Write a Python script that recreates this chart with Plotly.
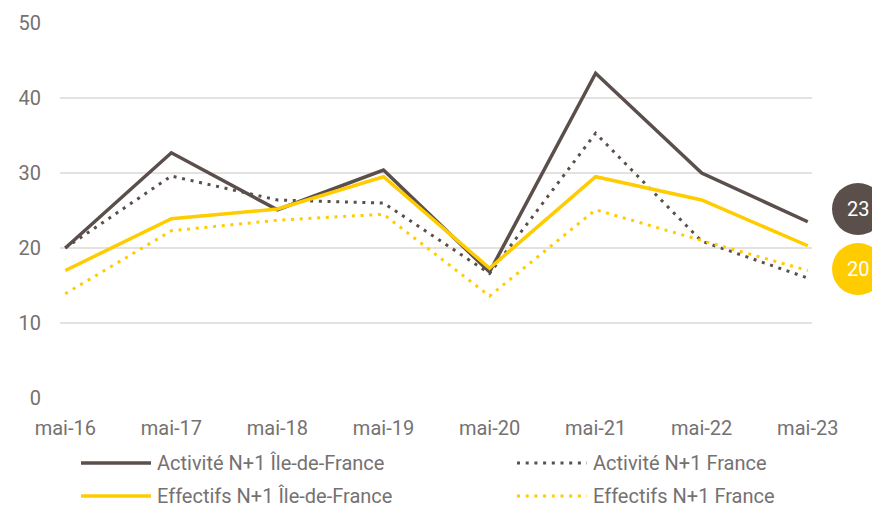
import plotly.graph_objects as go

categories = ["mai-16", "mai-17", "mai-18", "mai-19", "mai-20", "mai-21", "mai-22", "mai-23"]
activite_idf = [20.0, 32.7, 25.1, 30.4, 16.8, 43.3, 30.0, 23.5]
activite_fr = [20.0, 29.6, 26.4, 26.0, 16.6, 35.3, 20.9, 16.0]
effectifs_idf = [17.0, 23.9, 25.2, 29.5, 17.3, 29.5, 26.4, 20.3]
effectifs_fr = [13.9, 22.3, 23.7, 24.5, 13.6, 25.1, 21.0, 17.0]
series_names = ["Activité N+1 Île-de-France", "Activité N+1 France",
                "Effectifs N+1 Île-de-France", "Effectifs N+1 France"]
y_ticks = [0, 10, 20, 30, 40, 50]
end_labels = ["23", "20"]

DARK = "#5a4f4b"
YELLOW = "#ffcc00"
GREY = "#767171"
FONT = "Roboto, Arial, sans-serif"
DOT = "3px,5.7px"

series = [
    (activite_idf, DARK, "solid", 3.5),
    (activite_fr, DARK, DOT, 3),
    (effectifs_idf, YELLOW, "solid", 3.5),
    (effectifs_fr, YELLOW, DOT, 3),
]

x_idx = list(range(len(categories)))
fig = go.Figure()
for (vals, col, dash, w), name in zip(series, series_names):
    fig.add_trace(go.Scatter(x=x_idx, y=vals, mode="lines", name=name,
                             line=dict(color=col, width=w, dash=dash),
                             showlegend=False))

W, H = 872, 507
L, R, T, B = 60, 60, 23, 109
pw, ph = W - L - R, H - T - B
def px(x):
    return (x - L) / pw
def py(y):
    return (H - B - y) / ph

# manual legend (two columns)
leg_pos = [(81, 463), (517, 463), (81, 496), (517, 496)]
for (vals, col, dash, w), name, (lx, ly) in zip(series, series_names, leg_pos):
    fig.add_shape(type="line", xref="paper", yref="paper",
                  x0=px(lx), x1=px(lx + 70), y0=py(ly), y1=py(ly),
                  line=dict(color=col, width=w, dash=dash))
    fig.add_annotation(xref="paper", yref="paper", x=px(lx + 75), y=py(ly),
                       text=name, showarrow=False, xanchor="left", yanchor="middle",
                       borderpad=0,
                       font=dict(family=FONT, size=20, color=GREY))

# end-value bubbles
for lab, col, cy in zip(end_labels, [DARK, YELLOW], [209, 269]):
    fig.add_shape(type="circle", xref="paper", yref="paper",
                  x0=px(858 - 26), x1=px(858 + 26), y0=py(cy + 26), y1=py(cy - 26),
                  fillcolor=col, line=dict(width=0), layer="above")
    fig.add_annotation(xref="paper", yref="paper", x=px(858), y=py(cy),
                       text=lab, showarrow=False, xanchor="center", yanchor="middle",
                       font=dict(family=FONT, size=20, color="white"))

fig.update_layout(
    width=W, height=H,
    margin=dict(l=L, r=R, t=T, b=B),
    paper_bgcolor="white", plot_bgcolor="white",
    font=dict(family=FONT, size=20, color=GREY),
    showlegend=False,
)
fig.update_xaxes(range=[-0.05, 7.04], tickvals=x_idx, ticktext=categories,
                 showgrid=False, zeroline=False, showline=False,
                 ticks="outside", ticklen=12, tickcolor="rgba(0,0,0,0)",
                 tickfont=dict(family=FONT, size=20, color=GREY))
fig.update_yaxes(range=[0, 50], tickvals=y_ticks, showgrid=True,
                 gridcolor="#e6e1e1", gridwidth=2, zeroline=False, showline=False,
                 ticks="outside", ticklen=14, tickcolor="rgba(0,0,0,0)",
                 tickfont=dict(family=FONT, size=20, color=GREY))

fig.write_html("out.html", config={"displayModeBar": False},
               post_script="document.body.style.margin='0';document.body.style.overflow='hidden';")
